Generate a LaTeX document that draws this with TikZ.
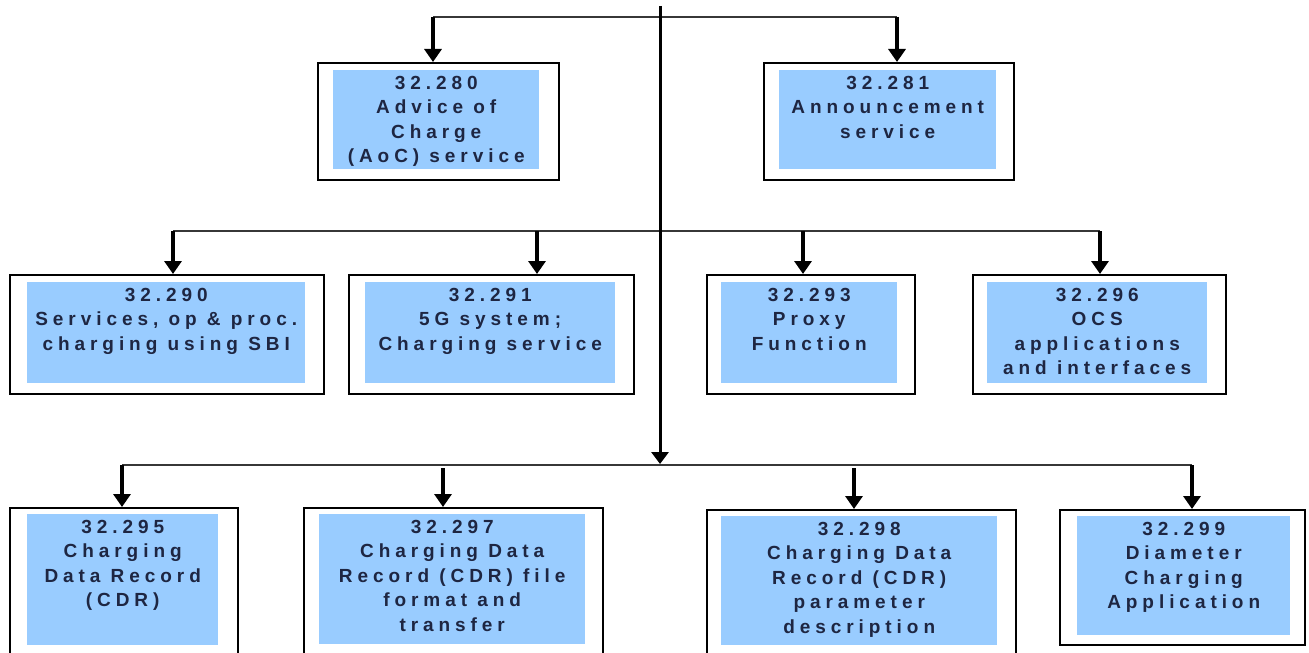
\documentclass[tikz,border=0pt]{standalone}
\usepackage{fontspec}
\setmainfont{Liberation Sans}
\newfontfamily\speclabel[LetterSpace=26]{Liberation Sans}
\usetikzlibrary{arrows.meta}

\definecolor{specblue}{RGB}{153,204,255}
\definecolor{specink}{RGB}{30,38,66}
\definecolor{busgray}{RGB}{55,55,55}

\tikzset{
  outerbox/.style={draw=black, line width=2bp, fill=white, inner sep=0pt,
                   anchor=north west},
  innerbox/.style={fill=specblue, inner sep=0pt, anchor=north west},
  spectext/.style={anchor=north, inner sep=0pt, align=center, text=specink,
                   font=\speclabel\bfseries\fontsize{19bp}{24.4bp}\selectfont,
                   yshift=-6bp},
  busline/.style={draw=busgray, line width=2bp},
  trunkline/.style={draw=black, line width=3bp,
                    -{Triangle[width=17bp,length=12bp]}},
  droparrow/.style={draw=black, line width=4bp,
                    -{Triangle[width=17bp,length=13bp]}},
}

% one specification box: name, outer corners, inner corners
\newcommand{\specbox}[9]{%
  \node[outerbox, minimum width={(#4-#2)*1bp}, minimum height={(#5-#3)*1bp}]
       (b#1) at (#2,#3) {};
  \node[innerbox, minimum width={(#8-#6)*1bp}, minimum height={(#9-#7)*1bp}]
       (t#1) at (#6,#7) {};
}

\begin{document}
\begin{tikzpicture}[x=1bp, y=-1bp]
  \clip (0,0) rectangle (1309,653);
  \fill[white] (0,0) rectangle (1309,653);

  % bus coordinates
  \coordinate (top) at (660,6);
  \coordinate (j3) at (660,464);
  \coordinate (c280) at (433,17);
  \coordinate (c281) at (897,17);
  \coordinate (c290) at (173,231);
  \coordinate (c291) at (537,231);
  \coordinate (c293) at (803,231);
  \coordinate (c296) at (1100,231);
  \coordinate (c295) at (122,465);
  \coordinate (c297) at (443,468);
  \coordinate (c298) at (854,468);
  \coordinate (c299) at (1192,465);

  % row 1
  \specbox{280}{317}{62}{558}{179}{333}{70}{539}{169}
  \specbox{281}{763}{62}{1013}{179}{779}{70}{996}{169}
  % row 2
  \specbox{290}{9}{274}{323}{393}{27}{282}{305}{383}
  \specbox{291}{348}{274}{633}{393}{365}{282}{615}{383}
  \specbox{293}{706}{274}{914}{393}{721}{282}{897}{383}
  \specbox{296}{972}{274}{1225}{393}{987}{282}{1207}{383}
  % row 3
  \specbox{295}{9}{507}{237}{670}{27}{514}{218}{645}
  \specbox{297}{303}{507}{602}{670}{319}{514}{585}{644}
  \specbox{298}{706}{509}{1015}{670}{721}{516}{997}{645}
  \specbox{299}{1059}{509}{1304}{644}{1077}{516}{1290}{635}

  % labels
  \node[spectext] (l280) at (t280.north) {32.280\\Advice of\\Charge\\(AoC) service};
  \node[spectext] (l281) at (t281.north) {32.281\\Announcement\\service};
  \node[spectext] (l290) at (t290.north) {32.290\\Services, op \& proc.\\charging using SBI};
  \node[spectext] (l291) at (t291.north) {32.291\\5G system;\\Charging service};
  \node[spectext] (l293) at (t293.north) {32.293\\Proxy\\Function};
  \node[spectext] (l296) at (t296.north) {32.296\\OCS\\applications\\and interfaces};
  \node[spectext] (l295) at (t295.north) {32.295\\Charging\\Data Record\\(CDR)};
  \node[spectext] (l297) at (t297.north) {32.297\\Charging Data\\Record (CDR) file\\format and\\transfer};
  \node[spectext] (l298) at (t298.north) {32.298\\Charging Data\\Record (CDR)\\parameter\\description};
  \node[spectext] (l299) at (t299.north) {32.299\\Diameter\\Charging\\Application};

  % buses
  \draw[busline] (c280) -- (c281);
  \draw[busline] (c290) -- (c296);
  \draw[busline] (c295) -- (c299);

  % trunk
  \draw[trunkline] (top) -- (j3);

  % drops
  \foreach \n in {280,281,290,291,293,296,295,297,298,299}
    \draw[droparrow] (c\n) -- (b\n.north -| c\n);
\end{tikzpicture}
\end{document}
